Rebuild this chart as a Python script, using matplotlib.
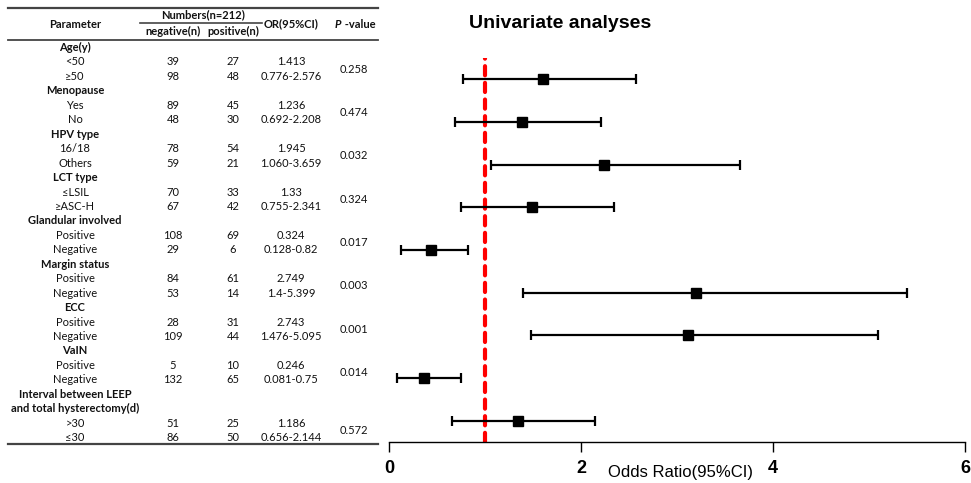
import matplotlib.pyplot as plt

# table data
groups = ["Age(y)", "Menopause", "HPV type", "LCT type", "Glandular involved",
          "Margin status", "ECC", "VaIN",
          "Interval between LEEP\nand total hysterectomy(d)"]
subgroups = [["<50", "≥50"], ["Yes", "No"], ["16/18", "Others"], ["≤LSIL", "≥ASC-H"],
             ["Positive", "Negative"], ["Positive", "Negative"], ["Positive", "Negative"],
             ["Positive", "Negative"], [">30", "≤30"]]
neg_n = [[39, 98], [89, 48], [78, 59], [70, 67], [108, 29], [84, 53], [28, 109], [5, 132], [51, 86]]
pos_n = [[27, 48], [45, 30], [54, 21], [33, 42], [69, 6], [61, 14], [31, 44], [10, 65], [25, 50]]
or_text = ["1.413", "1.236", "1.945", "1.33", "0.324", "2.749", "2.743", "0.246", "1.186"]
ci_text = ["0.776-2.576", "0.692-2.208", "1.060-3.659", "0.755-2.341", "0.128-0.82",
           "1.4-5.399", "1.476-5.095", "0.081-0.75", "0.656-2.144"]
p_text = ["0.258", "0.474", "0.032", "0.324", "0.017", "0.003", "0.001", "0.014", "0.572"]

# forest data (points as drawn in the figure)
or_point = [1.60, 1.39, 2.24, 1.49, 0.44, 3.20, 3.11, 0.36, 1.34]
ci_low = [0.776, 0.692, 1.060, 0.755, 0.128, 1.4, 1.476, 0.081, 0.656]
ci_high = [2.576, 2.208, 3.659, 2.341, 0.82, 5.399, 5.095, 0.75, 2.144]

fig = plt.figure(figsize=(9.71, 4.83), dpi=100)

# ---- table, drawn in pixel coords ----
tab = fig.add_axes([0, 0, 1, 1])
tab.set_xlim(0, 971)
tab.set_ylim(483, 0)
tab.axis('off')

tf = 'Lato'
fs = 8.0
x_par, x_neg, x_pos, x_or, x_p = 75, 173, 233, 291, 354
y0, dy = 47.5, 14.45


def put(x, y, s, bold=False, **kw):
    kw.setdefault('ha', 'center')
    tab.text(x, y, s, va='center', fontsize=fs, family=tf,
             fontweight='bold' if bold else 'normal', color='#111111', **kw)


tab.plot([8, 378], [8, 8], color='#444444', lw=1.6)
tab.plot([140, 262], [22.5, 22.5], color='#444444', lw=1.2)
tab.plot([8, 378], [39.5, 39.5], color='#444444', lw=1.3)
tab.plot([8, 378], [444, 444], color='#444444', lw=1.6)

put(x_par, 24, "Parameter", bold=True)
put(203, 15, "Numbers(n=212)", bold=True)
put(x_neg, 31.5, "negative(n)", bold=True)
put(x_pos, 31.5, "positive(n)", bold=True)
put(x_or, 24, "OR(95%CI)", bold=True)
put(341, 24, "P", bold=True, ha='right', style='italic')
put(342, 24, " -value", bold=True, ha='left')

line = 0
for i, g in enumerate(groups):
    for part in g.split('\n'):
        put(x_par, y0 + line * dy, part, bold=True)
        line += 1
    ya = y0 + line * dy
    yb = ya + dy
    put(x_par, ya, subgroups[i][0])
    put(x_par, yb, subgroups[i][1])
    put(x_neg, ya, str(neg_n[i][0]))
    put(x_neg, yb, str(neg_n[i][1]))
    put(x_pos, ya, str(pos_n[i][0]))
    put(x_pos, yb, str(pos_n[i][1]))
    put(x_or, ya, or_text[i])
    put(x_or, yb, ci_text[i])
    put(x_p, (ya + yb) / 2, p_text[i])
    line += 2

# ---- forest plot ----
ax = fig.add_axes([389 / 971, 1 - 442 / 483, 576 / 971, 384 / 483])
ax.patch.set_alpha(0)
ypos = list(range(len(or_point)))
xerr = [[p - l for p, l in zip(or_point, ci_low)],
        [h - p for p, h in zip(or_point, ci_high)]]
ax.errorbar(or_point, ypos, xerr=xerr, fmt='s', color='black', ms=6.5,
            capsize=3.3, elinewidth=1.6, capthick=1.6, zorder=3)
ax.axvline(1, color='red', lw=3, ls=(0, (2.2, 1.8)), dash_capstyle='round', zorder=2)

ax.set_xlim(0, 6)
ax.set_ylim(8.5, -0.5)
for s in ['top', 'right', 'left']:
    ax.spines[s].set_visible(False)
ax.spines['bottom'].set_linewidth(1)
ax.set_yticks([])
ax.set_xticks([0, 2, 4, 6])
ax.tick_params(axis='x', length=7, width=1, pad=6, labelsize=13)
for t in ax.get_xticklabels():
    t.set_fontweight('bold')
    t.set_family('Liberation Sans')

fig.text(680 / 971, 1 - 473 / 483, "Odds Ratio(95%CI)", ha='center', va='center',
         fontsize=12, family='Liberation Sans')
fig.text(560 / 971, 1 - 23 / 483, "Univariate analyses", ha='center', va='center',
         fontsize=14, fontweight='bold', family='Liberation Sans')

fig.savefig('out.png', dpi=100)
